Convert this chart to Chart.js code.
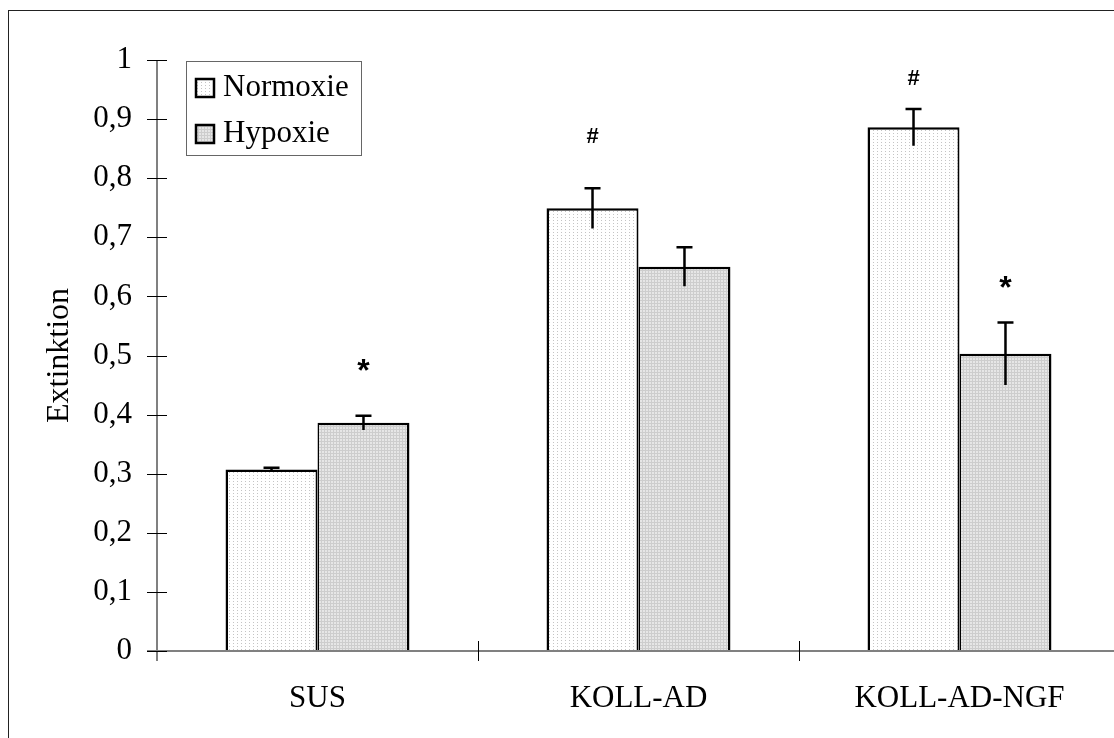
<!DOCTYPE html>
<html>
<head>
<meta charset="utf-8">
<title>Extinktion – Normoxie / Hypoxie</title>
<script src="https://cdn.jsdelivr.net/npm/chart.js@4/dist/chart.umd.min.js"></script>
<style>
  html, body { margin: 0; padding: 0; background: #fff; overflow: hidden; width: 1114px; height: 738px; }
  #frame { position: absolute; left: 8px; top: 10px; width: 2000px; height: 2000px;
           border-left: 1px solid #222; border-top: 1px solid #222; }
  #wrap { position: absolute; left: 0; top: 0; width: 1125px; height: 738px; }
</style>
</head>
<body>
<div id="frame"></div>
<div id="wrap"><canvas id="chart" width="1125" height="738"></canvas></div>
<script>
// Groups and measured extinction values (mean ± error)
const categories = ['SUS', 'KOLL-AD', 'KOLL-AD-NGF'];
const seriesNames = ['Normoxie', 'Hypoxie'];
const normoxie = [0.307, 0.749, 0.886];
const normoxieErr = [0.003, 0.034, 0.031];
const hypoxie = [0.386, 0.650, 0.503];
const hypoxieErr = [0.012, 0.033, 0.053];
// Significance markers and the value level they are printed at
const normoxieMarks = ['', '#', '#'];
const normoxieMarkLevel = [null, 0.873, 0.970];
const hypoxieMarks = ['*', '', '*'];
const hypoxieMarkLevel = [0.484, null, 0.624];
const yTicks = [0, 0.1, 0.2, 0.3, 0.4, 0.5, 0.6, 0.7, 0.8, 0.9, 1];

const SERIF = "'Liberation Serif', 'Times New Roman', serif";
const SANS = "'Liberation Sans', Arial, sans-serif";

const chartCtx = document.getElementById('chart').getContext('2d');

// light dotted fill
const normFill = (() => {
  const c = document.createElement('canvas'); c.width = 4; c.height = 3;
  const g = c.getContext('2d');
  g.fillStyle = '#ffffff'; g.fillRect(0, 0, 4, 3);
  g.fillStyle = '#c4c4c4'; g.fillRect(1, 1, 1, 1);
  return chartCtx.createPattern(c, 'repeat');
})();
// denser grey fill
const hypFill = (() => {
  const c = document.createElement('canvas'); c.width = 3; c.height = 3;
  const g = c.getContext('2d');
  g.fillStyle = '#e6e6e6'; g.fillRect(0, 0, 3, 3);
  g.fillStyle = '#cdcdcd'; g.fillRect(0, 0, 3, 1); g.fillRect(0, 0, 1, 3);
  return chartCtx.createPattern(c, 'repeat');
})();

const fmt = v => (v === 0 || v === 1) ? String(v) : v.toFixed(1).replace('.', ',');

// Axis lines with crossing tick marks
const axesPlugin = {
  id: 'axesLines',
  afterDatasetsDraw(chart) {
    const { ctx, chartArea: a, scales: { x, y } } = chart;
    const y0 = y.getPixelForValue(0);
    ctx.save();
    ctx.strokeStyle = '#808080';
    ctx.lineWidth = 2;
    ctx.beginPath();
    ctx.moveTo(a.left, a.top); ctx.lineTo(a.left, y0 + 10);
    ctx.moveTo(a.left - 10, y0); ctx.lineTo(chart.width, y0);
    ctx.stroke();
    ctx.strokeStyle = '#000';
    ctx.lineWidth = 1;
    ctx.beginPath();
    yTicks.forEach(v => {
      const py = Math.round(y.getPixelForValue(v)) + 0.5;
      ctx.moveTo(a.left - 10, py); ctx.lineTo(a.left + 10, py);
    });
    for (let i = 0; i < categories.length - 1; i++) {
      const px = Math.round((x.getPixelForValue(i) + x.getPixelForValue(i + 1)) / 2) + 0.5;
      ctx.moveTo(px, y0 - 10); ctx.lineTo(px, y0 + 10);
    }
    ctx.stroke();
    ctx.restore();
  }
};

// Error bars (upper cap only) and significance markers
const errorPlugin = {
  id: 'errorBars',
  afterDatasetsDraw(chart) {
    const { ctx, scales: { y } } = chart;
    const errs = [normoxieErr, hypoxieErr];
    const marks = [normoxieMarks, hypoxieMarks];
    const levels = [normoxieMarkLevel, hypoxieMarkLevel];
    ctx.save();
    chart.data.datasets.forEach((ds, di) => {
      const meta = chart.getDatasetMeta(di);
      meta.data.forEach((bar, i) => {
        const v = ds.data[i], e = errs[di][i];
        const top = y.getPixelForValue(v + e);
        const bot = y.getPixelForValue(v - e);
        ctx.strokeStyle = '#000';
        ctx.lineWidth = 2.5;
        ctx.beginPath();
        ctx.moveTo(bar.x, bot); ctx.lineTo(bar.x, top);
        ctx.moveTo(bar.x - 8, top); ctx.lineTo(bar.x + 8, top);
        ctx.stroke();
        const m = marks[di][i];
        if (m) {
          ctx.fillStyle = '#000';
          ctx.font = m === '*' ? 'bold 32px ' + SANS : 'bold 22px ' + SANS;
          ctx.textAlign = 'center';
          ctx.textBaseline = 'alphabetic';
          const tm = ctx.measureText(m);
          const cy = y.getPixelForValue(levels[di][i]);
          ctx.fillText(m, bar.x, cy + (tm.actualBoundingBoxAscent - tm.actualBoundingBoxDescent) / 2);
        }
      });
    });
    ctx.restore();
  }
};

// Boxed legend in the upper left of the plot
const legendPlugin = {
  id: 'boxLegend',
  afterDraw(chart) {
    const { ctx, chartArea: a } = chart;
    const bx = a.left + 29, by = a.top + 1, bw = 175, bh = 94;
    ctx.save();
    ctx.fillStyle = '#fff';
    ctx.fillRect(bx, by, bw, bh);
    ctx.strokeStyle = '#666';
    ctx.lineWidth = 1;
    ctx.strokeRect(bx + 0.5, by + 0.5, bw, bh);
    chart.data.datasets.forEach((ds, i) => {
      const cy = by + 26 + i * 46;
      ctx.fillStyle = ds.backgroundColor;
      ctx.fillRect(bx + 9, cy - 9, 20, 20);
      ctx.strokeStyle = '#000';
      ctx.lineWidth = 2.5;
      ctx.strokeRect(bx + 10, cy - 8, 18, 18);
      ctx.fillStyle = '#000';
      ctx.font = '31px ' + SERIF;
      ctx.textAlign = 'left';
      ctx.textBaseline = 'middle';
      ctx.fillText(ds.label, bx + 37, cy + 1);
    });
    ctx.restore();
  }
};

new Chart(document.getElementById('chart'), {
  type: 'bar',
  data: {
    labels: categories,
    datasets: [
      { label: seriesNames[0], data: normoxie, backgroundColor: normFill,
        borderColor: '#000', borderSkipped: false,
        borderWidth: { left: 2.5, top: 2.5, right: 2, bottom: 0 } },
      { label: seriesNames[1], data: hypoxie, backgroundColor: hypFill,
        borderColor: '#000', borderSkipped: false,
        borderWidth: { left: 1.5, top: 2.5, right: 2.5, bottom: 0 } }
    ]
  },
  options: {
    responsive: false,
    devicePixelRatio: 1,
    animation: false,
    events: [],
    layout: { padding: { left: 0, right: 5, top: 60, bottom: 0 } },
    datasets: { bar: { categoryPercentage: 0.573, barPercentage: 1 } },
    plugins: { legend: { display: false }, tooltip: { enabled: false } },
    scales: {
      x: {
        grid: { display: false, drawTicks: false },
        border: { display: false },
        ticks: { color: '#000', font: { family: SERIF, size: 31 }, padding: 29, maxRotation: 0 },
        afterFit(s) { s.height = 87; }
      },
      y: {
        min: 0, max: 1,
        grid: { display: false, drawTicks: false },
        border: { display: false },
        afterBuildTicks(s) { s.ticks = yTicks.map(v => ({ value: v })); },
        ticks: { color: '#000', font: { family: SERIF, size: 31 }, padding: 25,
                 callback: v => fmt(v) },
        title: { display: true, text: 'Extinktion', color: '#000',
                 font: { family: SERIF, size: 32 }, padding: { top: 40, bottom: 0 } },
        afterFit(s) { s.width = 157; }
      }
    }
  },
  plugins: [axesPlugin, errorPlugin, legendPlugin]
});
</script>
</body>
</html>
